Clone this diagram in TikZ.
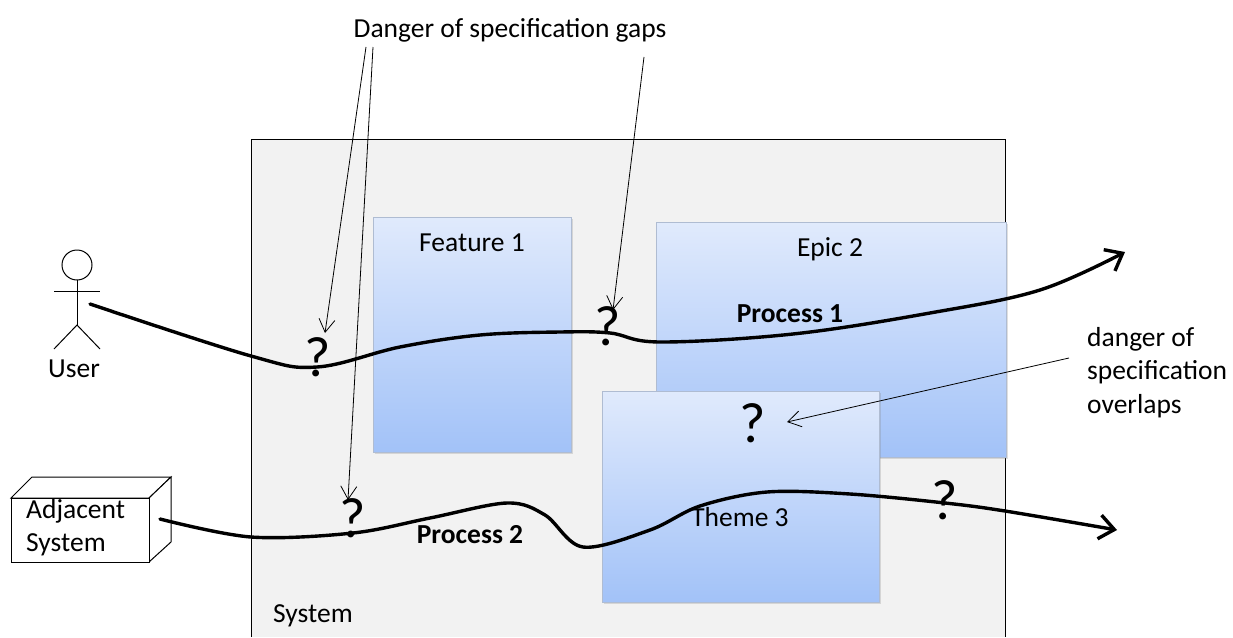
\documentclass[tikz,border=0pt]{standalone}
\usepackage{fontspec}
\setmainfont{Carlito}
\usetikzlibrary{arrows.meta,shadows}
\definecolor{sysgray}{RGB}{242,242,242}
\definecolor{btop}{RGB}{224,234,252}
\definecolor{bbot}{RGB}{162,194,248}
\definecolor{bedge}{RGB}{175,188,210}
\begin{document}
\begin{tikzpicture}[x=1pt,y=-1pt,
  txt/.style={font=\fontsize{27.5}{33.5}\selectfont, inner sep=0pt},
  btxt/.style={font=\fontsize{27.5}{33.5}\selectfont\bfseries, inner sep=0pt},
  qm/.style={font=\fontsize{57}{60}\selectfont, inner sep=0pt},
  bluebox/.style={draw=bedge, line width=0.6pt, top color=btop, bottom color=bbot,
    anchor=north west, inner sep=0pt,
    drop shadow={shadow xshift=1.5pt, shadow yshift=-2pt, opacity=0.25}},
  proc/.style={line width=3.4pt, line cap=round,
    -{Straight Barb[length=15pt,width=24pt,line width=3.4pt]}},
  pointer/.style={line width=0.8pt,
    -{Straight Barb[length=13pt,width=16pt,line width=0.8pt]}},
  actor/.style={line width=1pt},
]
\useasboundingbox (0,0) rectangle (1233,637);
\fill[white] (0,0) rectangle (1233,637);

% system box
\fill[sysgray] (251,139) rectangle (1005,637);
\draw[line width=1pt] (251,637) -- (251,139) -- (1005,139) -- (1005,637);
\node[txt, anchor=west] (syslbl) at (273,616) {System};

% blue boxes
\node[bluebox, minimum width=198pt, minimum height=235pt] (feat) at (373,217) {};
\node[txt] (featlbl) at (472,243) {Feature 1};
\node[bluebox, minimum width=350pt, minimum height=235pt] (epic) at (656,222) {};
\node[txt] (epiclbl) at (830,249) {Epic 2};
\node[bluebox, minimum width=277pt, minimum height=211pt] (theme) at (602,391) {};
\node[txt] (themelbl) at (740,517) {Theme 3};

% user actor
\draw[actor] (77,265) circle (15);
\draw[actor] (77,280) -- (77,325);
\draw[actor] (54,291) -- (100,291);
\draw[actor] (54,349) -- (77,325) -- (100,349);
\node[txt] (userlbl) at (74,369) {User};
\coordinate (uhand) at (90,304);

% adjacent system box
\draw[line width=1pt, fill=white] (11,498) -- (32,477) -- (171,477) -- (149,498) -- cycle;
\draw[line width=1pt, fill=white] (149,498) -- (171,477) -- (171,542) -- (149,562) -- cycle;
\node[draw, line width=1pt, fill=white, anchor=north west, minimum width=138pt,
  minimum height=64pt, inner sep=0pt] (adj) at (11,498) {};
\node[txt, anchor=north west, align=left] (adjlbl) at (26,499) {Adjacent\\System};
\coordinate (adjout) at (160,519);

% process labels
\node[btxt] (p1lbl) at (790,314) {Process 1};
\node[btxt] (p2lbl) at (470,535) {Process 2};

% process 1
\coordinate (p1end) at (1125,252);
\draw[proc] plot[smooth, tension=0.6] coordinates {(uhand) (251,356) (317,367) (400,347)
  (480,335) (560,332) (610,333) (660,342) (793,334) (930,313) (1040,290) (p1end)};

% process 2
\coordinate (p2end) at (1117,530);
\draw[proc] plot[smooth, tension=0.55] coordinates {(adjout) (251,537) (353,533)
  (430,518) (507,503) (545,515) (583,547) (650,530) (700,506) (767,492) (850,494)
  (945,503) (1005,511) (p2end)};

% question marks
\node[qm] (q1) at (318,357) {?};
\node[qm] (q2) at (608,326) {?};
\node[qm] (q3) at (353,518) {?};
\node[qm] (q4) at (753,423) {?};
\node[qm] (q5) at (945,500) {?};

% gap annotation
\node[txt] (gaps) at (510,30) {Danger of specification gaps};
\coordinate (g1) at (366,47);
\coordinate (g2) at (373,47);
\coordinate (g3) at (644,57);
\coordinate (t1) at (325,333);
\coordinate (t2) at (348,500);
\coordinate (t3) at (613,310);
\draw[pointer] (g1) -- (t1);
\draw[pointer] (g2) -- (t2);
\draw[pointer] (g3) -- (t3);

% overlap annotation
\node[txt, anchor=north west, align=left] (ovl) at (1087,327) {danger of\\specification\\overlaps};
\coordinate (o1) at (1069,358);
\coordinate (ot) at (787,422);
\draw[pointer] (o1) -- (ot);
\end{tikzpicture}
\end{document}
